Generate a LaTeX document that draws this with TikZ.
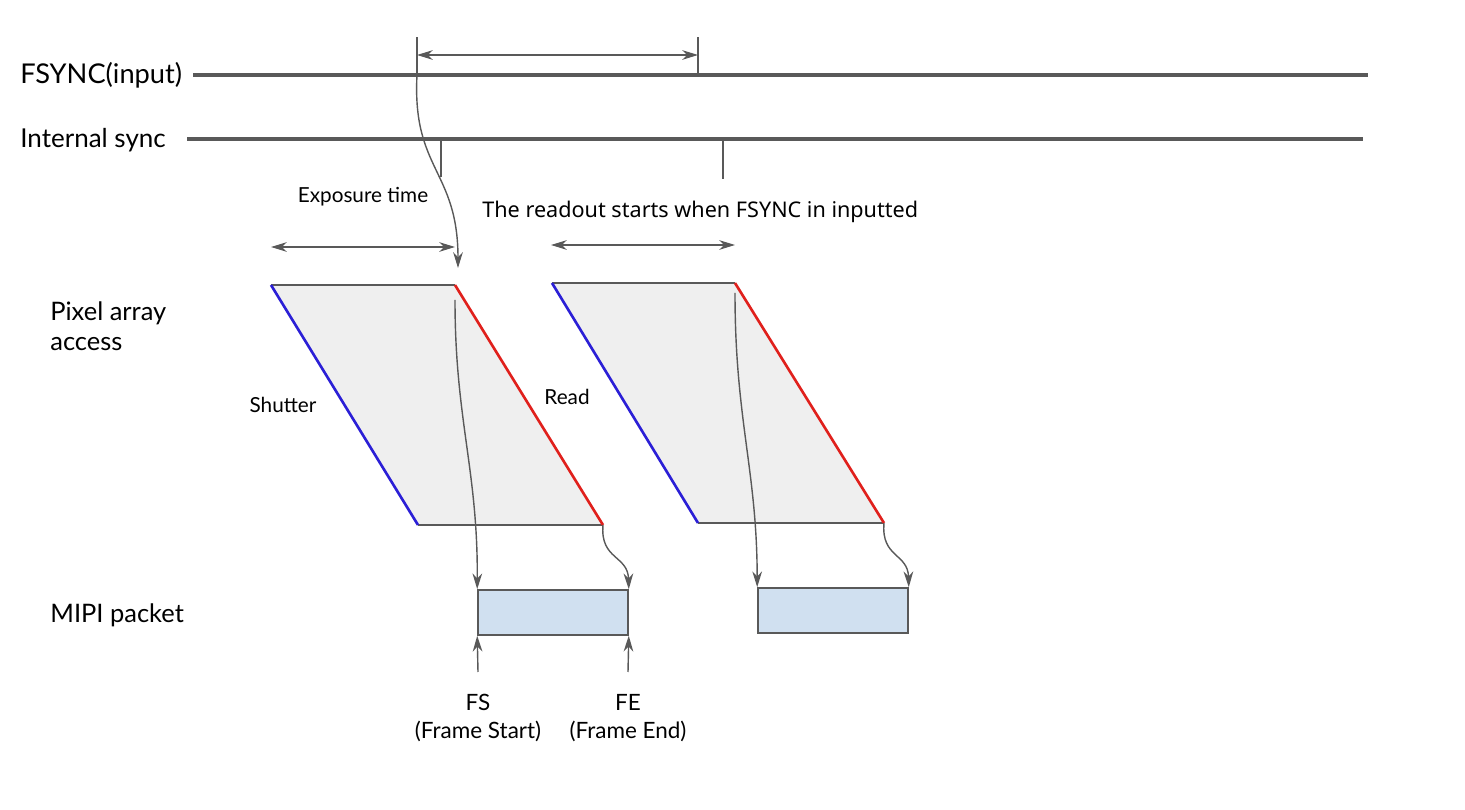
\documentclass[tikz,border=0pt]{standalone}
\usepackage{fontspec}
\setmainfont{Lato}
\newfontfamily\notofont{Noto Sans}
\usetikzlibrary{arrows.meta, positioning}

\definecolor{linegray}{HTML}{595959}
\definecolor{shutterblue}{HTML}{2B1FD6}
\definecolor{readred}{HTML}{E0201C}
\definecolor{framefill}{HTML}{EFEFEF}
\definecolor{packetfill}{HTML}{D0E0F0}

\begin{document}
\begin{tikzpicture}[
        x=0.02cm, y=-0.02cm,
        label/.style={inner sep=0pt, anchor=west, font=\fontsize{14.5}{17}\selectfont},
        small/.style={inner sep=0pt, font=\fontsize{11.8}{14.5}\selectfont},
        signal/.style={draw=linegray, line width=1.9pt},
        tick/.style={draw=linegray, line width=1.4pt},
        span/.style={{Stealth[length=9pt,width=5.5pt]}-{Stealth[length=9pt,width=5.5pt]}, draw=linegray, line width=0.8pt},
        flow/.style={-{Stealth[length=9pt,width=5.5pt]}, draw=linegray, line width=0.8pt},
        packet/.style={draw=linegray, line width=0.9pt, fill=packetfill}
    ]
    \useasboundingbox (0,0) rectangle (1465,810);
    % signals
    \node[label, font=\fontsize{15.5}{18}\selectfont] (fsync) at (20,75) {FSYNC(input)};
    \node[label, font=\fontsize{14.8}{18}\selectfont] (isync) at (20,140) {Internal sync};
    \coordinate (fsyncS) at (193,75);
    \coordinate (fsyncE) at (1368,75);
    \coordinate (isyncS) at (187,139);
    \coordinate (isyncE) at (1363,139);
    \draw[signal] (fsyncS) -- (fsyncE);
    \draw[signal] (isyncS) -- (isyncE);
    \coordinate (fa) at (417,75);
    \coordinate (fb) at (698,75);
    \coordinate (faT) at (417,37);
    \coordinate (fbT) at (698,37);
    \draw[tick] (fa) -- (faT);
    \draw[tick] (fb) -- (fbT);
    \coordinate (faM) at (417,55);
    \coordinate (fbM) at (698,55);
    \draw[span] (faM) -- (fbM);
    \coordinate (ia) at (441,139);
    \coordinate (iaB) at (441,177);
    \coordinate (ib) at (723,139);
    \coordinate (ibB) at (723,179);
    \draw[tick] (ia) -- (iaB);
    \draw[tick] (ib) -- (ibB);
    % exposure and readout
    \node[small] (exposure) at (363,197) {Exposure time};
    \coordinate (expL) at (271,247);
    \coordinate (expR) at (455,247);
    \draw[span] (expL) -- (expR);
    \node[inner sep=0pt, anchor=west, font=\notofont\fontsize{12.3}{15}\selectfont] (readout) at (482,212) {The readout starts when FSYNC in inputted};
    \coordinate (rdL) at (551,245);
    \coordinate (rdR) at (735,245);
    \draw[span] (rdL) -- (rdR);
    % pixel array access
    \node[label, align=left] (pixel) at (50,326) {Pixel array\\access};
    \node[small] (shutter) at (283,405) {Shutter};
    \node[small] (read) at (567,397) {Read};
    \coordinate (aTL) at (271,285);
    \coordinate (aTR) at (455,285);
    \coordinate (aBR) at (603,525);
    \coordinate (aBL) at (418,525);
    \coordinate (bTL) at (552,283);
    \coordinate (bTR) at (735,283);
    \coordinate (bBR) at (884,523);
    \coordinate (bBL) at (698,523);
    \fill[framefill] (aTL) -- (aTR) -- (aBR) -- (aBL) -- cycle;
    \fill[framefill] (bTL) -- (bTR) -- (bBR) -- (bBL) -- cycle;
    \draw[linegray, line width=0.9pt] (aTL) -- (aTR) (aBL) -- (aBR);
    \draw[linegray, line width=0.9pt] (bTL) -- (bTR) (bBL) -- (bBR);
    \draw[shutterblue, line width=1.5pt] (aTL) -- (aBL);
    \draw[shutterblue, line width=1.5pt] (bTL) -- (bBL);
    \draw[readred, line width=1.5pt] (aTR) -- (aBR);
    \draw[readred, line width=1.5pt] (bTR) -- (bBR);
    \coordinate (aTop) at (458,268);
    \draw[flow] (fa) .. controls (412,170) and (458,170) .. (aTop);
    % mipi packets
    \node[label] (mipi) at (50,615) {MIPI packet};
    \node[packet, minimum width=150*0.02cm, minimum height=45*0.02cm, inner sep=0pt] (pktA) at (553,612.5) {};
    \node[packet, minimum width=150*0.02cm, minimum height=45*0.02cm, inner sep=0pt] (pktB) at (833,610.5) {};
    \coordinate (aIn) at (455,300);
    \coordinate (bIn) at (735,293);
    \draw[flow] (aIn) .. controls (455,420) and (478,470) .. (pktA.north west);
    \draw[flow] (bIn) .. controls (735,420) and (757,470) .. (pktB.north west);
    \draw[flow] (aBR) .. controls (600,560) and (628,555) .. (pktA.north east);
    \draw[flow] (bBR) .. controls (881,558) and (908,553) .. (pktB.north east);
    % frame start / end
    \coordinate (fsB) at (478,672);
    \coordinate (feB) at (628,672);
    \draw[flow] (fsB) -- (pktA.south west);
    \draw[flow] (feB) -- (pktA.south east);
    \node[small, align=center, font=\fontsize{12.8}{15.5}\selectfont] (fs) at (478,718) {FS\\(Frame Start)};
    \node[small, align=center, font=\fontsize{12.8}{15.5}\selectfont] (fe) at (628,718) {FE\\(Frame End)};
\end{tikzpicture}
\end{document}
